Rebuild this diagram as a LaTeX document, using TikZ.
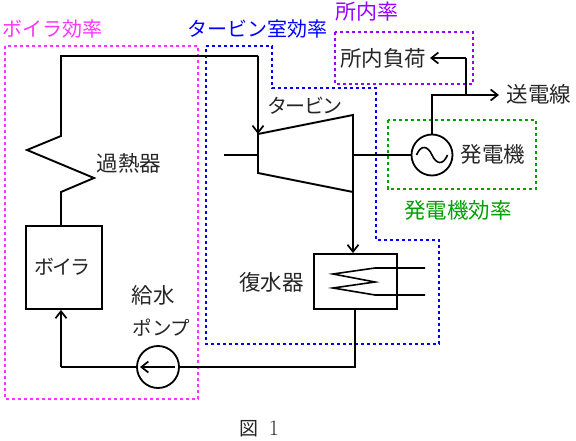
\documentclass[tikz,border=0pt]{standalone}
\usepackage{fontspec}
\newfontfamily\jpfont{Noto Sans CJK JP}
\newfontfamily\jptight[LetterSpace=-8]{Noto Sans CJK JP}
\usetikzlibrary{arrows.meta}
\definecolor{boilc}{HTML}{FF33FF}
\definecolor{turbc}{HTML}{0000FF}
\definecolor{ownc}{HTML}{9900FF}
\definecolor{genc}{HTML}{00A000}
\tikzset{
  wire/.style={line width=1.9pt,black,line join=miter},
  flow/.style={wire,-{Straight Barb[length=7pt,width=11pt,line width=1.7pt]}},
  unit/.style={draw=black,line width=1.8pt,inner sep=0pt},
  area/.style={line width=2pt,dash pattern=on 3.4pt off 2.6pt},
  lbl/.style={font=\jpfont\fontsize{21.5}{21.5}\selectfont,inner sep=0pt,text=black!85},
  kana/.style={font=\jpfont\fontsize{#1}{#1}\selectfont},
  tightkana/.style={font=\jptight\fontsize{#1}{#1}\selectfont},
}
\begin{document}
\begin{tikzpicture}[x=1pt,y=-1pt]
\useasboundingbox (0,0) rectangle (576,441);
% efficiency areas
\draw[area,boilc] (5,46) rectangle (198,399);
\draw[area,turbc] (206,46) -- (272,46) -- (272,88) -- (376,88) -- (376,240) -- (439,240) -- (439,344) -- (206,344) -- cycle;
\draw[area,ownc] (335,32) rectangle (473,84);
\draw[area,genc] (388,120) rectangle (536,189);
% equipment
\node[unit,minimum width=76pt,minimum height=83pt] (boiler) at (64,267.5) {};
\node[unit,minimum width=83pt,minimum height=55pt] (cond) at (355.5,281.5) {};
\node[unit,circle,minimum size=42pt] (pump) at (158,367) {};
\node[unit,circle,minimum size=41pt] (gen) at (432,155) {};
\draw[wire,line join=miter] (258,134) coordinate (tTL) -- (353,115) coordinate (tTR) -- (353,192) coordinate (tBR) -- (258,173) coordinate (tBL) -- cycle;
% named junctions
\coordinate (topL) at (61,56);
\coordinate (topR) at (258,56);
\coordinate (shaftL) at (224,155);
\coordinate (tIn) at (258,155);
\coordinate (tOut) at (353,155);
\coordinate (busL) at (432,95);
\coordinate (busT) at (466,95);
\coordinate (busU) at (466,58);
\coordinate (lineEnd) at (499,95);
\coordinate (ownEnd) at (430,58);
\coordinate (pumpIn) at (175,367);
\coordinate (pumpOut) at (140,367);
\coordinate (retL) at (61,367);
\coordinate (retR) at (355,367);
% steam and water path
\draw[wire] (boiler.north -| retL) -- (61,192) -- (94,178) -- (27,150) -- (61,136) -- (topL) -- (topR);
\draw[flow] (topR) -- (tTL);
\draw[wire] (shaftL) -- (tIn);
\draw[wire] (tOut) -- (gen.west);
\draw[flow] (tBR) -- (cond.north -| tBR);
\draw[wire] (cond.south -| retR) -- (retR) -- (pump.east);
\draw[flow] (pumpIn) -- (pumpOut);
\draw[wire] (pump.west) -- (retL);
\draw[flow] (retL) -- (boiler.south -| retL);
% condenser coil
\coordinate (coilA) at (425,268);
\coordinate (coilB) at (425,295);
\draw[wire,line width=1.6pt] (coilA) -- (375,268) -- (333,274) -- (375,282) -- (333,288) -- (375,295) -- (coilB);
% generator output
\draw[wire] (gen.north) -- (busL) -- (busT);
\draw[flow] (busT) -- (lineEnd);
\draw[wire] (busT) -- (busU);
\draw[flow] (busU) -- (ownEnd);
% generator symbol
\draw[line width=1.6pt] (416.5,155) .. controls (421,144) and (428,146) .. (432,155) .. controls (436,164) and (443,166) .. (447.5,155);
% labels
\node[lbl,kana=20,text=boilc] (tboil) at (52,29) {ボイラ効率};
\node[lbl,kana=20,text=turbc] (tturb) at (257,29) {タービン室効率};
\node[lbl,kana=21,text=ownc] (town) at (367,12) {所内率};
\node[lbl,text=genc] (tgen) at (458,210) {発電機効率};
\node[lbl] (lload) at (383,58) {所内負荷};
\node[lbl] (lline) at (539,94) {送電線};
\node[lbl] (lturb) at (305,106) [tightkana=20] {タービン};
\node[lbl] (lgen) at (493,154) {発電機};
\node[lbl] (lsh) at (129,163) {過熱器};
\node[lbl] (lboil) at (62.5,267) [tightkana=20] {ボイラ};
\node[lbl] (lfw) at (153,295) {給水};
\node[lbl] (lpump) at (161.5,328) [kana=19.5] {ポンプ};
\node[lbl] (lcond) at (271.5,282) {復水器};
\node[lbl,kana=19] (lfig) at (259.5,429) {図\hspace{10pt}{\rmfamily\fontsize{22}{22}\selectfont 1}};
\end{tikzpicture}
\end{document}
